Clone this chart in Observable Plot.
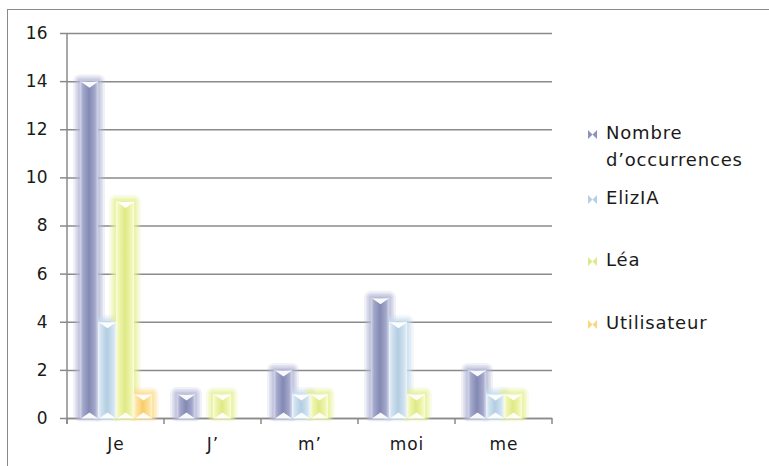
<!DOCTYPE html>
<html>
<head>
<meta charset="utf-8">
<script src="https://cdn.jsdelivr.net/npm/d3@7"></script>
<script src="https://cdn.jsdelivr.net/npm/@observablehq/plot@0.6"></script>
<style>
  body { margin: 0; background: #fff; }
  #wrap { position: relative; width: 769px; height: 466px; overflow: hidden; background: #fff; font-family: "DejaVu Sans", sans-serif; }
  #border { position: absolute; left: 7px; top: 9px; width: 900px; height: 600px; border-left: 1.5px solid #8a8a8a; border-top: 1.5px solid #8a8a8a; }
  #chart { position: absolute; left: 0; top: 0; }
  .leg { position: absolute; left: 588px; font-size: 18px; letter-spacing: 0.8px; color: #1a1a1a; line-height: 27px; white-space: nowrap; }
  .leg svg { margin-right: 9px; vertical-align: 0px; }
</style>
</head>
<body>
<div id="wrap">
  <div id="border"></div>
  <div id="chart"></div>
  <div id="legend"></div>
</div>
<script>
// ---- data ----
const categories = ["Je", "J’", "m’", "moi", "me"];
const series = ["Nombre d’occurrences", "ElizIA", "Léa", "Utilisateur"];
const nombre = [14, 1, 2, 5, 2];
const elizia = [4, 0, 1, 4, 1];
const lea = [9, 1, 1, 1, 1];
const utilisateur = [1, 0, 0, 0, 0];
const yTicks = [0, 2, 4, 6, 8, 10, 12, 14, 16];
const legendLines = [["Nombre", "d’occurrences"], ["ElizIA"], ["Léa"], ["Utilisateur"]];

// ---- styles ----
const seriesValues = [nombre, elizia, lea, utilisateur];
const palette = [
  {edge: "#d6d8ea", mid: "#a3a8cb", core: "#8389b3", glow: "#b4b8d7", icon: "#8d93bb"},
  {edge: "#eef5fb", mid: "#d0e2f0", core: "#b3cde2", glow: "#c8ddee", icon: "#b6cfe3"},
  {edge: "#fafde0", mid: "#eff5b0", core: "#dfe985", glow: "#e6ef95", icon: "#dfe98a"},
  {edge: "#fff3cf", mid: "#fde2a0", core: "#f8cd68", glow: "#fcdb90", icon: "#f9d77a"}
];

const rows = categories.flatMap((c, i) => series.map((s, j) => ({category: c, series: s, value: seriesValues[j][i]})));

const triDown = {draw(ctx) { ctx.moveTo(-8.5, 0); ctx.lineTo(8.5, 0); ctx.lineTo(0, 6); ctx.closePath(); }};
const triUp = {draw(ctx) { ctx.moveTo(-8.5, 0); ctx.lineTo(8.5, 0); ctx.lineTo(0, -6); ctx.closePath(); }};

const marks = [
  Plot.gridY(yTicks, {stroke: "#8a8a8a", strokeOpacity: 1, strokeWidth: 1.5}),
  Plot.ruleY([0], {stroke: "#8a8a8a", strokeWidth: 1.5}),
  Plot.axisY(yTicks, {tickSize: 7, tickPadding: 13, stroke: "#8a8a8a", strokeWidth: 1.5, fill: "#1a1a1a", label: null}),
  Plot.axisFx({anchor: "bottom", tickSize: 0, tickPadding: 19, label: null, fill: "#1a1a1a"})
];
// soft glow halos (layered, widening, fading)
const glowLayers = [[-7, 0.2, 7], [-5, 0.26, 5], [-3.5, 0.34, 3.5], [-2, 0.42, 2]];
series.forEach((s, j) => {
  const d = rows.filter(r => r.series === s && r.value > 0);
  glowLayers.forEach(([ins, op, r]) => {
    marks.push(Plot.barY(d, {fx: "category", x: "series", y: "value",
      insetLeft: ins, insetRight: ins, insetTop: ins, insetBottom: ins / 2,
      rx: r, fill: palette[j].glow, fillOpacity: op}));
  });
});
series.forEach((s, j) => {
  const d = rows.filter(r => r.series === s && r.value > 0);
  marks.push(Plot.barY(d, {fx: "category", x: "series", y: "value", fill: `url(#grad${j})`}));
});
series.forEach((s, j) => {
  const d = rows.filter(r => r.series === s && r.value > 0);
  marks.push(Plot.dot(d, {fx: "category", x: "series", y: "value", symbol: triDown, fill: "white", fillOpacity: 0.95, stroke: "none"}));
  marks.push(Plot.dot(d, {fx: "category", x: "series", y: () => 0, symbol: triUp, fill: "white", fillOpacity: 0.95, stroke: "none"}));
});

const chart = Plot.plot({
  width: 769,
  height: 466,
  marginLeft: 66,
  marginRight: 216,
  marginTop: 33,
  marginBottom: 48,
  style: {fontFamily: "DejaVu Sans, sans-serif", fontSize: "17px", color: "#1a1a1a", background: "transparent", overflow: "visible"},
  fx: {domain: categories, padding: 0},
  x: {domain: series, axis: null, paddingInner: 0, paddingOuter: 0.67},
  y: {domain: [0, 16]},
  marks
});

const svg = d3.select(chart);

// gradients inside the chart svg
const defs = svg.insert("defs", ":first-child");
palette.forEach((p, i) => {
  const g = defs.append("linearGradient").attr("id", "grad" + i).attr("x1", 0).attr("x2", 1).attr("y1", 0).attr("y2", 0);
  [[0, p.edge], [0.16, p.mid], [0.5, p.core], [0.84, p.mid], [1, p.edge]].forEach(([o, c]) =>
    g.append("stop").attr("offset", o).attr("stop-color", c));
});

// x-label letter spacing
svg.selectAll('g[aria-label="fx-axis tick label"] text').style("letter-spacing", "1px");

// y axis line and category boundary ticks, from the library's scales
const fxS = chart.scale("fx");
const yS = chart.scale("y");
const y0 = yS.apply(0), yTop = yS.apply(16);
const bounds = categories.map(c => fxS.apply(c));
bounds.push(bounds[bounds.length - 1] + fxS.step);
const ax = svg.append("g").attr("stroke", "#8a8a8a").attr("stroke-width", 1.5);
ax.append("line").attr("x1", bounds[0]).attr("x2", bounds[0]).attr("y1", yTop).attr("y2", y0 + 6);
bounds.forEach(b => ax.append("line").attr("x1", b).attr("x2", b).attr("y1", y0).attr("y2", y0 + 6));

document.getElementById("chart").appendChild(chart);

// legend
const legendTops = [119, 184, 246, 309];
const leg = d3.select("#legend");
legendLines.forEach((lines, i) => {
  const div = leg.append("div").attr("class", "leg").style("top", legendTops[i] + "px");
  const icon = div.append("svg").attr("width", 9).attr("height", 9);
  icon.append("path").attr("d", "M0,0L4.5,4.5L0,9ZM9,0L4.5,4.5L9,9Z").attr("fill", palette[i].icon);
  div.append("span").text(lines[0]);
  for (let k = 1; k < lines.length; k++) {
    div.append("br");
    div.append("span").style("margin-left", "18px").text(lines[k]);
  }
});
</script>
</body>
</html>
